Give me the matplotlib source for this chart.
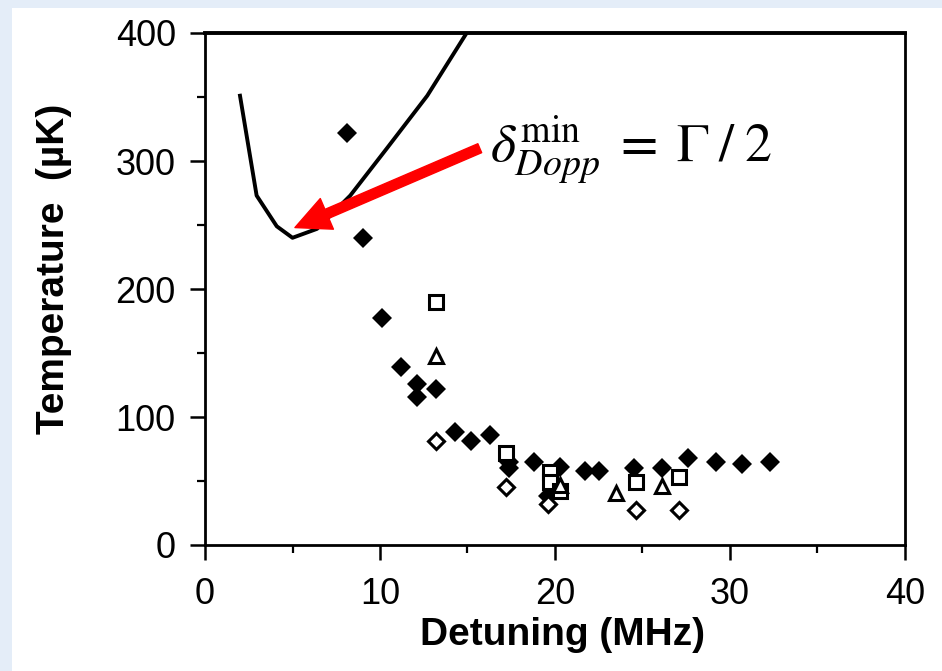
import matplotlib
matplotlib.use('Agg')
import matplotlib.pyplot as plt
from matplotlib.patches import Rectangle
from matplotlib.ticker import MultipleLocator

plt.rcParams['font.family'] = ['Liberation Sans', 'DejaVu Sans']
plt.rcParams['mathtext.fontset'] = 'stix'

# Doppler-limit theory curve
curve_x = [2.0, 2.95, 4.1, 5.0, 6.4, 8.3, 10.4, 12.7, 14.95]
curve_t = [351, 273, 249, 240, 247, 273, 310, 351, 400]

# measured temperatures (MHz, uK)
filled_x = [8.1, 9.0, 10.1, 11.2, 12.1, 12.1, 13.2, 14.3, 15.2, 16.3, 17.4, 17.4,
            18.8, 20.3, 19.6, 21.7, 22.5, 24.5, 26.1, 27.6, 29.2, 30.7, 32.3]
filled_t = [322, 240, 177, 139, 126, 116, 122, 88, 81, 86, 65, 60,
            65, 61, 38, 58, 58, 60, 60, 68, 65, 63, 65]

square_x = [13.2, 17.2, 19.7, 19.7, 20.3, 24.6, 27.1]
square_t = [190, 72, 57, 49, 42, 49, 53]

triangle_x = [13.2, 20.3, 23.5, 26.1]
triangle_t = [148, 47, 41, 46]

open_diamond_x = [13.2, 17.2, 19.6, 24.6, 27.1]
open_diamond_t = [81, 45, 32, 27, 27]

fig = plt.figure(figsize=(9.42, 6.71), dpi=100, facecolor='#e4edf8')
fig.patches.append(Rectangle((12/942, 0), 1, 1 - 8/671, transform=fig.transFigure,
                             facecolor='white', edgecolor='none', zorder=-1))
ax = fig.add_axes([205/942, 1 - 545/671, 700/942, 512/671])
ax.set_facecolor('white')

ax.plot(curve_x, curve_t, color='black', lw=2.8, clip_on=True)
ax.plot(filled_x, filled_t, 'D', color='black', ms=10.5, mew=0)
ax.plot(square_x, square_t, 's', mfc='white', mec='black', ms=10.5, mew=2.2)
ax.plot(triangle_x, triangle_t, '^', mfc='white', mec='black', ms=10.5, mew=2.2)
ax.plot(open_diamond_x, open_diamond_t, 'D', mfc='white', mec='black', ms=8.5, mew=2.2)

ax.set_xlim(0, 40)
ax.set_ylim(0, 400)
ax.xaxis.set_major_locator(MultipleLocator(10))
ax.xaxis.set_minor_locator(MultipleLocator(5))
ax.yaxis.set_major_locator(MultipleLocator(100))
ax.yaxis.set_minor_locator(MultipleLocator(50))
ax.tick_params(which='major', direction='out', length=11, width=1.8, labelsize=26)
ax.tick_params(axis='y', which='major', pad=10)
ax.tick_params(axis='x', which='major', pad=12)
ax.tick_params(which='minor', direction='out', length=5.5, width=1.6)
for s in ax.spines.values():
    s.set_linewidth(2)
ax.spines['top'].set_linewidth(2.8)

ax.set_xlabel('Detuning (MHz)', fontsize=28, fontweight='bold')
ax.set_ylabel('Temperature  (µK)', fontsize=28, fontweight='bold')
ax.xaxis.set_label_coords(0.51, -0.14)
ax.yaxis.set_label_coords(-0.19, 0.54)

ax.annotate('', xy=(5.14, 248), xytext=(15.7, 310),
            arrowprops=dict(facecolor='#ff0000', edgecolor='#ff0000', width=7,
                            headwidth=24, headlength=25, shrink=0))
ax.text(16.3, 300, r'$\delta^{\mathrm{min}}_{Dopp}\;=\;\Gamma\;/\;2$', fontsize=39,
        ha='left', va='baseline')

fig.savefig('out.png', dpi=100, facecolor=fig.get_facecolor())
